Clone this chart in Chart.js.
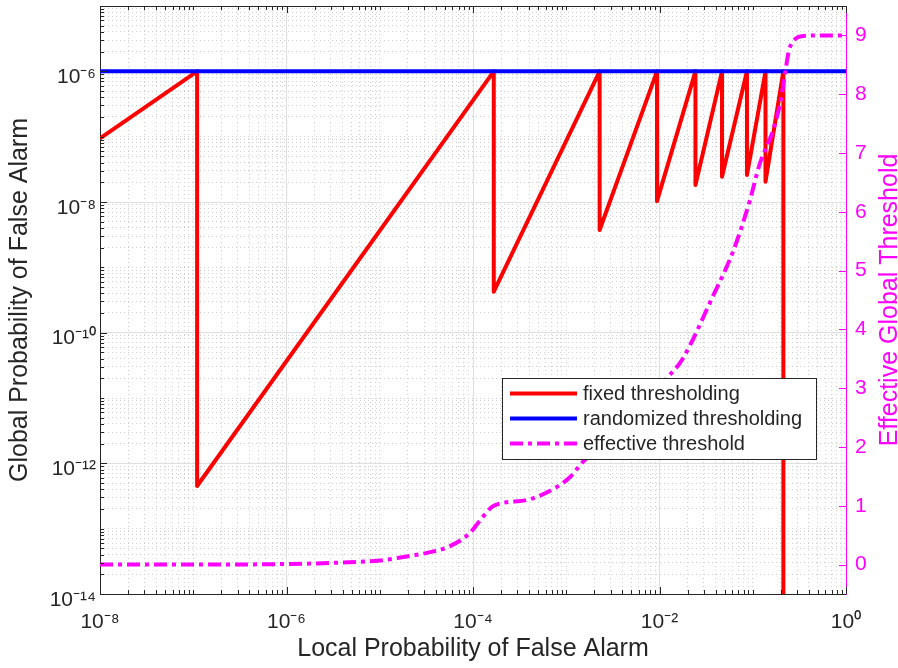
<!DOCTYPE html>
<html lang="en">
<head>
<meta charset="utf-8">
<title>Global vs Local Probability of False Alarm</title>
<script src="https://cdn.jsdelivr.net/npm/chart.js@4.4.1/dist/chart.umd.min.js"></script>
<style>
  html, body { margin: 0; padding: 0; background: #fff; }
  canvas { display: block; }
</style>
</head>
<body>
<canvas id="pfaChart" width="898" height="668"></canvas>
<script>
// fixed thresholding: local Pfa (x) vs global Pfa (y), corners
const fixedX = [1e-8, 1.10e-7, 1.10e-7, 1.67e-4, 1.67e-4, 2.28e-3, 2.28e-3, 9.4e-3, 9.4e-3,
                0.0243, 0.0243, 0.0468, 0.0468, 0.0867, 0.0867, 0.137, 0.137, 0.213, 0.213];
const fixedY = [9.4e-8, 1e-6, 4.5e-13, 1e-6, 4.24e-10, 1e-6, 3.73e-9, 1e-6, 1.03e-8,
                1e-6, 1.82e-8, 1e-6, 2.44e-8, 1e-6, 2.59e-8, 1e-6, 2.05e-8, 1e-6, 1e-16];

// randomized thresholding stays on the constraint
const randX = [1e-8, 1];
const randY = [1e-6, 1e-6];

// effective global threshold (right axis)
const effX = [1e-8, 1e-7, 1e-6, 3.2e-6, 1e-5, 1.66e-5, 3.2e-5, 5.6e-5, 9.3e-5, 1.2e-4, 1.67e-4,
              3.8e-4, 7.9e-4, 1.1e-3, 1.58e-3, 3.2e-3, 6.3e-3, 1.2e-2, 1.74e-2, 3.7e-2, 6.2e-2,
              9.3e-2, 0.118, 0.166, 0.2, 0.224, 0.245, 0.282, 0.355, 0.63, 1];
const effY = [0, 0, 0.01, 0.03, 0.07, 0.12, 0.2, 0.31, 0.54, 0.76, 1.0,
              1.10, 1.32, 1.49, 1.78, 2.12, 2.6, 3.17, 3.48, 4.55, 5.34,
              6.19, 6.8, 7.4, 7.9, 8.4, 8.75, 8.93, 8.99, 9.0, 9.0];

const xMajorTicks = [1e-8, 1e-6, 1e-4, 1e-2, 1];
const xTickLabels = ['10⁻⁸', '10⁻⁶', '10⁻⁴', '10⁻²', '10⁰'];
const yMajorTicks = [1e-14, 1e-12, 1e-10, 1e-8, 1e-6];
const yTickLabels = ['10⁻¹⁴', '10⁻¹²', '10⁻¹⁰', '10⁻⁸', '10⁻⁶'];
const rightTicks = [0, 1, 2, 3, 4, 5, 6, 7, 8, 9];

const FONT = "'Liberation Sans', Arial, Helvetica, sans-serif";
const INK = '#262626';
const MAGENTA = '#ff00ff';
const MAJOR_GRID = '#dfdfdf';
const MINOR_GRID = '#d0d0d0';

Chart.defaults.font.family = FONT;
Chart.defaults.color = INK;

// 2..9 x 10^e plus the unlabelled decades
function minorLogTicks(eLo, eHi, majors) {
    const out = [];
    for (let e = eLo; e < eHi; e++) {
        for (let m = 1; m < 10; m++) {
            const v = parseFloat(m + 'e' + e);
            if (!majors.includes(v)) out.push(v);
        }
    }
    return out;
}
const xMinorTicks = minorLogTicks(-8, 0, xMajorTicks);
const yMinorTicks = minorLogTicks(-14, -5, yMajorTicks);

const pairs = (xs, ys) => xs.map((x, i) => ({ x: x, y: ys[i] }));

// pin the axis boxes so the plot area lands where the figure has it
const fixBox = (w, h) => (s) => {
    if (w !== null) s.width = w;
    if (h !== null) s.height = h;
    s.paddingTop = s.paddingBottom = s.paddingLeft = s.paddingRight = 0;
};
const setTicks = (vals) => (s) => { s.ticks = vals.map(v => ({ value: v })); };

const MAJ = 7, MIN = 4;

const frameTicks = {
    id: 'frameTicks',
    afterDatasetsDraw(chart) {
        const { ctx, chartArea: a, scales } = chart;
        const px = v => Math.round(scales.x.getPixelForValue(v)) + 0.5;
        const py = v => Math.round(scales.y.getPixelForValue(v)) + 0.5;
        const pr = v => Math.round(scales.y2.getPixelForValue(v)) + 0.5;
        ctx.save();
        ctx.lineWidth = 1;
        ctx.strokeStyle = INK;
        ctx.beginPath();
        ctx.moveTo(a.left, a.top + 0.5);
        ctx.lineTo(a.right, a.top + 0.5);
        const xt = (v, len) => {
            const p = px(v);
            ctx.moveTo(p, a.bottom); ctx.lineTo(p, a.bottom - len);
            ctx.moveTo(p, a.top); ctx.lineTo(p, a.top + len);
        };
        xMajorTicks.forEach(v => xt(v, MAJ));
        xMinorTicks.forEach(v => xt(v, MIN));
        const yt = (v, len) => {
            const p = py(v);
            ctx.moveTo(a.left, p); ctx.lineTo(a.left + len, p);
        };
        yMajorTicks.forEach(v => yt(v, MAJ));
        yMinorTicks.forEach(v => yt(v, MIN));
        ctx.stroke();

        ctx.strokeStyle = MAGENTA;
        ctx.beginPath();
        rightTicks.forEach(v => {
            const p = pr(v);
            ctx.moveTo(a.right, p); ctx.lineTo(a.right - MAJ, p);
        });
        ctx.stroke();
        ctx.restore();
    }
};

const boxLegend = {
    id: 'boxLegend',
    afterDatasetsDraw(chart) {
        const { ctx } = chart;
        const x0 = 502, y0 = 378, w = 314, h = 81;
        ctx.save();
        ctx.fillStyle = '#ffffff';
        ctx.fillRect(x0, y0, w, h);
        ctx.strokeStyle = INK;
        ctx.lineWidth = 1;
        ctx.strokeRect(x0 + 0.5, y0 + 0.5, w, h);
        ctx.font = '20px ' + FONT;
        ctx.textBaseline = 'middle';
        chart.data.datasets.forEach((ds, i) => {
            const y = y0 + 15.5 + i * 25;
            ctx.strokeStyle = ds.borderColor;
            ctx.lineWidth = ds.borderWidth;
            ctx.setLineDash(ds.borderDash || []);
            ctx.beginPath();
            ctx.moveTo(x0 + 8, y);
            ctx.lineTo(x0 + 75, y);
            ctx.stroke();
            ctx.fillStyle = INK;
            ctx.fillText(ds.label, x0 + 81, y + 1);
        });
        ctx.restore();
    }
};

// right-hand label reads bottom to top, as in the figure
const rightTitle = {
    id: 'rightTitle',
    afterDraw(chart) {
        const { ctx, chartArea: a } = chart;
        ctx.save();
        ctx.translate(897, (a.top + a.bottom) / 2);
        ctx.rotate(-Math.PI / 2);
        ctx.font = '25px ' + FONT;
        ctx.fillStyle = MAGENTA;
        ctx.textAlign = 'center';
        ctx.textBaseline = 'alphabetic';
        ctx.fillText('Effective Global Threshold', 0, 0);
        ctx.restore();
    }
};

const minorGrid = {
    display: true,
    drawOnChartArea: true,
    drawTicks: false,
    color: MINOR_GRID,
    lineWidth: 1
};

new Chart(document.getElementById('pfaChart'), {
    type: 'line',
    data: {
        datasets: [{
            label: 'fixed thresholding',
            data: pairs(fixedX, fixedY),
            borderColor: '#ff0000',
            borderWidth: 4,
            pointRadius: 0,
            borderJoinStyle: 'round',
            yAxisID: 'y',
            order: 3
        }, {
            label: 'randomized thresholding',
            data: pairs(randX, randY),
            borderColor: '#0000ff',
            borderWidth: 4,
            pointRadius: 0,
            yAxisID: 'y',
            order: 2
        }, {
            label: 'effective threshold',
            data: pairs(effX, effY),
            borderColor: MAGENTA,
            borderWidth: 4,
            borderDash: [13, 5, 4, 5],
            pointRadius: 0,
            cubicInterpolationMode: 'monotone',
            yAxisID: 'y2',
            order: 1
        }]
    },
    options: {
        responsive: false,
        animation: false,
        events: [],
        layout: { padding: { top: 6, left: 0, right: 0, bottom: 0 } },
        plugins: {
            legend: { display: false },
            tooltip: { enabled: false }
        },
        scales: {
            x: {
                type: 'logarithmic',
                position: 'bottom',
                min: 1e-8,
                max: 1,
                afterBuildTicks: setTicks(xMajorTicks),
                afterFit: fixBox(null, 74),
                grid: { color: MAJOR_GRID, drawTicks: false },
                border: { color: INK, width: 1 },
                ticks: {
                    autoSkip: false,
                    maxRotation: 0,
                    padding: 16,
                    color: INK,
                    font: { size: 21 },
                    callback: (v, i) => xTickLabels[i]
                },
                title: {
                    display: true,
                    text: 'Local Probability of False Alarm',
                    color: INK,
                    font: { size: 25 },
                    padding: { top: 0, bottom: 4 }
                }
            },
            xMinor: {
                type: 'logarithmic',
                position: 'bottom',
                min: 1e-8,
                max: 1,
                afterBuildTicks: setTicks(xMinorTicks),
                afterFit: fixBox(null, 0),
                grid: minorGrid,
                border: { display: false, dash: [1, 3] },
                ticks: { display: false }
            },
            y: {
                type: 'logarithmic',
                position: 'left',
                min: 1e-14,
                max: 1e-5,
                afterBuildTicks: setTicks(yMajorTicks),
                afterFit: fixBox(100, null),
                grid: { color: MAJOR_GRID, drawTicks: false },
                border: { color: INK, width: 1 },
                ticks: {
                    autoSkip: false,
                    padding: 4,
                    labelOffset: 6,
                    color: INK,
                    font: { size: 21 },
                    callback: (v, i) => yTickLabels[i]
                },
                title: {
                    display: true,
                    text: 'Global Probability of False Alarm',
                    color: INK,
                    font: { size: 25 },
                    padding: { top: 5, bottom: 0 }
                }
            },
            yMinor: {
                type: 'logarithmic',
                position: 'left',
                min: 1e-14,
                max: 1e-5,
                afterBuildTicks: setTicks(yMinorTicks),
                afterFit: fixBox(0, null),
                grid: minorGrid,
                border: { display: false, dash: [1, 3] },
                ticks: { display: false }
            },
            y2: {
                type: 'linear',
                position: 'right',
                min: -0.5,
                max: 9.5,
                afterBuildTicks: setTicks(rightTicks),
                afterFit: fixBox(52, null),
                grid: { drawOnChartArea: false, drawTicks: false },
                border: { color: MAGENTA, width: 1 },
                ticks: {
                    autoSkip: false,
                    padding: 9,
                    color: MAGENTA,
                    font: { size: 21 },
                    callback: (v) => String(v)
                }
            }
        }
    },
    plugins: [frameTicks, boxLegend, rightTitle]
});
</script>
</body>
</html>
